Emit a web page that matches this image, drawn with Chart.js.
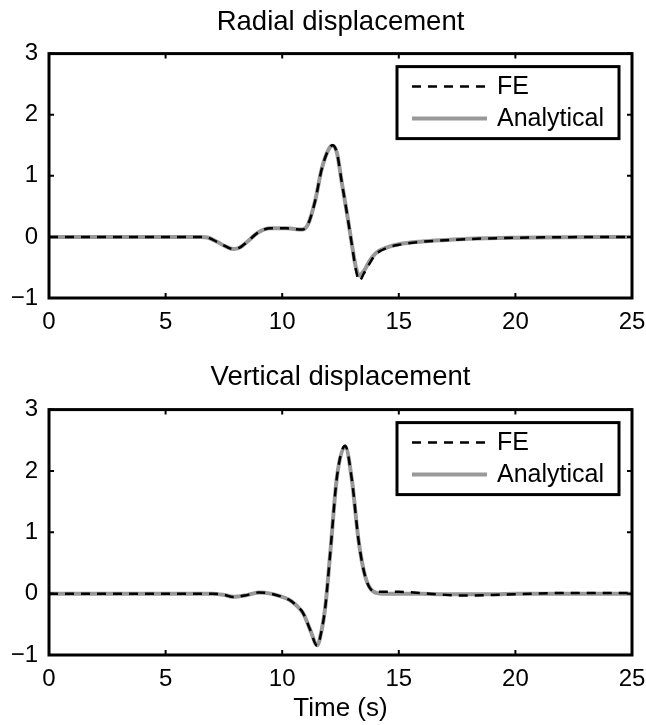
<!DOCTYPE html>
<html>
<head>
<meta charset="utf-8">
<script src="https://cdn.jsdelivr.net/npm/chart.js@4/dist/chart.umd.min.js"></script>
<style>
  html, body { margin: 0; padding: 0; background: #fff; }
  .panel { position: absolute; left: 0; width: 646px; }
</style>
</head>
<body>
<div class="panel" style="top:0"><canvas id="radial" width="646" height="340"></canvas></div>
<div class="panel" style="top:340px"><canvas id="vertical" width="646" height="385"></canvas></div>
<script>
// values (time in s, displacement)
const xTicks = [0, 5, 10, 15, 20, 25];
const yTicks = [-1, 0, 1, 2, 3];
const seriesNames = ['FE', 'Analytical'];

const radialTime = [0, 2, 4, 6, 6.5, 6.8, 7.2, 7.6, 7.92, 8.2, 8.5, 9.0, 9.5, 10.2, 10.85, 11.1, 11.4, 11.7, 12.0, 12.16, 12.35, 12.56, 12.78, 13.0, 13.15, 13.3, 13.5, 13.77, 14.0, 14.5, 15.0, 16.0, 17.0, 18.0, 20.0, 22.0, 25.0];
const radialFE = [0, 0, 0, 0, 0, -0.01, -0.08, -0.16, -0.2, -0.17, -0.08, 0.08, 0.14, 0.14, 0.12, 0.2, 0.57, 1.12, 1.44, 1.5, 1.37, 0.88, 0.38, -0.16, -0.52, -0.72, -0.6, -0.42, -0.29, -0.18, -0.13, -0.08, -0.055, -0.035, -0.015, -0.005, 0];
const radialAn = [0, 0, 0, 0, 0, -0.01, -0.08, -0.16, -0.2, -0.17, -0.08, 0.08, 0.14, 0.14, 0.12, 0.2, 0.57, 1.12, 1.44, 1.49, 1.37, 0.88, 0.38, -0.15, -0.48, -0.63, -0.56, -0.38, -0.27, -0.17, -0.12, -0.075, -0.05, -0.03, -0.012, -0.004, 0];

const vertTime = [0, 3, 6, 7, 7.5, 7.9, 8.4, 9.0, 9.5, 9.9, 10.3, 10.6, 10.9, 11.2, 11.5, 11.7, 11.85, 12.06, 12.35, 12.7, 12.99, 13.27, 13.56, 13.92, 14.3, 15, 16, 17, 18, 19, 20, 22, 25];
const vertFE = [0, 0, 0, 0, -0.02, -0.055, -0.03, 0.02, 0, -0.04, -0.1, -0.19, -0.32, -0.59, -0.85, -0.58, -0.21, 0.66, 1.91, 2.41, 1.85, 0.88, 0.28, 0.04, 0.03, 0.03, 0.01, -0.02, -0.03, -0.02, -0.01, 0.01, 0.01];
const vertAn = [0, 0, 0, 0, -0.02, -0.05, -0.03, 0.02, 0, -0.04, -0.1, -0.19, -0.32, -0.59, -0.84, -0.58, -0.21, 0.66, 1.91, 2.4, 1.85, 0.88, 0.28, 0.03, 0, 0, 0, -0.01, -0.01, -0.01, 0, 0, 0];

Chart.defaults.font.family = '"Liberation Sans", Arial, Helvetica, sans-serif';
Chart.defaults.color = '#000';

const minus = v => (v < 0 ? '\u2212' + Math.abs(v) : String(v));

// box round the plot + inward ticks on all four sides, like matlab
const frame = {
  id: 'frame',
  afterDatasetsDraw(chart) {
    const { ctx, chartArea: a, scales } = chart;
    ctx.save();
    ctx.strokeStyle = '#000';
    ctx.lineWidth = 2;
    ctx.beginPath();
    xTicks.forEach(v => {
      const px = scales.x.getPixelForValue(v);
      ctx.moveTo(px, a.bottom); ctx.lineTo(px, a.bottom - 5);
      ctx.moveTo(px, a.top); ctx.lineTo(px, a.top + 5);
    });
    yTicks.forEach(v => {
      const py = scales.y.getPixelForValue(v);
      ctx.moveTo(a.left, py); ctx.lineTo(a.left + 5, py);
      ctx.moveTo(a.right, py); ctx.lineTo(a.right - 5, py);
    });
    ctx.stroke();
    ctx.lineWidth = 3;
    ctx.strokeRect(a.left, a.top, a.right - a.left, a.bottom - a.top);
    ctx.restore();
  }
};

// legend with a border, top right inside the axes
const boxLegend = {
  id: 'boxLegend',
  afterDatasetsDraw(chart) {
    const { ctx, chartArea: a } = chart;
    const w = 222, h = 72;
    const x0 = a.right - 13 - w, y0 = a.top + 13;
    ctx.save();
    ctx.fillStyle = '#fff';
    ctx.fillRect(x0, y0, w, h);
    ctx.lineWidth = 3;
    ctx.strokeStyle = '#000';
    ctx.strokeRect(x0, y0, w, h);
    chart.data.datasets.forEach((ds, i) => {
      const y = y0 + 20 + i * 32;
      ctx.beginPath();
      ctx.setLineDash(ds.borderDash || []);
      ctx.lineWidth = ds.borderWidth;
      ctx.strokeStyle = ds.borderColor;
      ctx.moveTo(x0 + 15, y);
      ctx.lineTo(x0 + 90, y);
      ctx.stroke();
      ctx.setLineDash([]);
      ctx.fillStyle = '#000';
      ctx.font = '25px "Liberation Sans", Arial, sans-serif';
      ctx.textBaseline = 'middle';
      ctx.fillText(ds.label, x0 + 100, y + 1);
    });
    ctx.restore();
  }
};

function makeChart(id, title, time, fe, an, o) {
  return new Chart(document.getElementById(id), {
    type: 'line',
    data: {
      datasets: [
        {
          label: seriesNames[0],
          data: time.map((t, i) => ({ x: t, y: fe[i] })),
          borderColor: '#000',
          borderWidth: 2.5,
          borderDash: [9, 7],
          pointRadius: 0,
          cubicInterpolationMode: 'monotone'
        },
        {
          label: seriesNames[1],
          data: time.map((t, i) => ({ x: t, y: an[i] })),
          borderColor: '#999999',
          borderWidth: 4,
          pointRadius: 0,
          cubicInterpolationMode: 'monotone'
        }
      ]
    },
    options: {
      responsive: false,
      animation: false,
      devicePixelRatio: 1,
      layout: { padding: { left: 0, right: 14, top: 0, bottom: 0 } },
      plugins: {
        legend: { display: false },
        tooltip: { enabled: false },
        title: {
          display: true,
          text: title,
          fullSize: false,
          color: '#000',
          font: { size: 27.5, weight: 'normal', lineHeight: 1.2 },
          padding: o.titlePad
        }
      },
      scales: {
        x: {
          type: 'linear',
          min: 0,
          max: 25,
          grid: { display: false, drawTicks: false },
          border: { display: false },
          ticks: { padding: 10, font: { size: 24 }, callback: minus },
          afterBuildTicks: axis => { axis.ticks = xTicks.map(v => ({ value: v })); },
          afterFit: axis => {
            axis.height = o.xHeight;
            // the end labels may hang past the box, the layout padding covers it
            axis.paddingLeft = 0;
            axis.paddingRight = 0;
          },
          title: {
            display: !!o.xTitle,
            text: o.xTitle || '',
            font: { size: 26 },
            padding: { top: 0, bottom: 1 }
          }
        },
        y: {
          min: -1,
          max: 3,
          grid: { display: false, drawTicks: false },
          border: { display: false },
          ticks: { padding: 11, font: { size: 24 }, callback: minus },
          afterBuildTicks: axis => { axis.ticks = yTicks.map(v => ({ value: v })); },
          afterFit: axis => {
            axis.width = 49;
            axis.paddingTop = 0;
            axis.paddingBottom = 0;
          }
        }
      }
    },
    plugins: [frame, boxLegend]
  });
}

makeChart('radial', 'Radial displacement', radialTime, radialFE, radialAn, {
  titlePad: { top: 6, bottom: 14.6 },
  xHeight: 42
});
makeChart('vertical', 'Vertical displacement', vertTime, vertFE, vertAn, {
  titlePad: { top: 21.3, bottom: 15.3 },
  xHeight: 70,
  xTitle: 'Time (s)'
});
</script>
</body>
</html>
